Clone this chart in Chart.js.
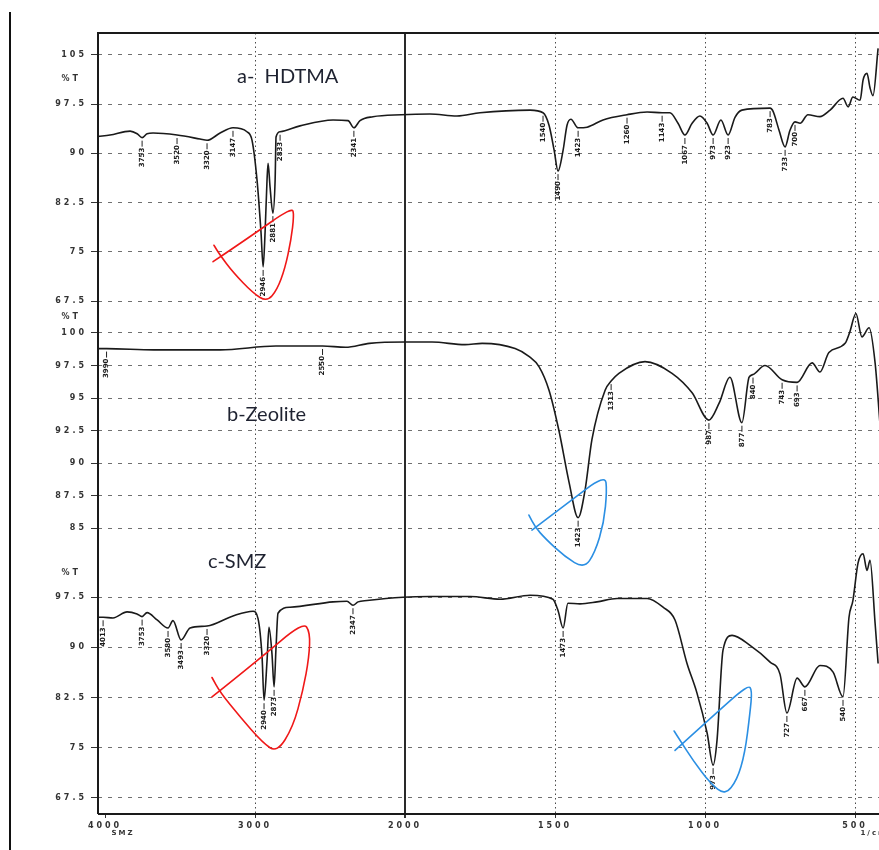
<!DOCTYPE html>
<html>
<head>
<meta charset="utf-8">
<title>FTIR spectra - HDTMA, Zeolite, SMZ</title>
<script src="https://cdn.jsdelivr.net/npm/chart.js@4.4.1/dist/chart.umd.min.js"></script>
<style>
  body { margin: 0; background: #fff; }
  #wrap { position: relative; width: 879px; height: 850px; overflow: hidden; background: #fff; }
  #chart { position: absolute; left: 0; top: 0; }
  #edge { position: absolute; left: 9px; top: 12px; width: 2px; height: 838px; background: #111; }
  .tag { position: absolute; font-family: Lato, "Open Sans", sans-serif; font-size: 20px; line-height: 20px; color: #1e2230; white-space: pre; }
</style>
</head>
<body>
<div id="wrap">
  <div id="edge"></div>
  <canvas id="chart" width="879" height="850"></canvas>
  <div class="tag" style="left:237px;top:65px">a-  HDTMA</div>
  <div class="tag" style="left:227px;top:403px">b-Zeolite</div>
  <div class="tag" style="left:208px;top:550px">c-SMZ</div>
</div>
<script>
// wavenumber axis (1/cm), 4000-2000 is drawn at half the scale of 2000-400
const xTickWaves = [4000, 3000, 2000, 1500, 1000, 500];
const xMinWave = 4047;
const xMaxWave = 420;

// a- HDTMA
const waveA = [4045, 3967, 3833, 3786, 3753, 3720, 3680, 3520, 3367, 3320,
  3233, 3147, 3054, 3020, 2987, 2960, 2946, 2933, 2920, 2913,
  2900, 2881, 2866, 2860, 2833, 2700, 2480, 2380, 2341, 2300,
  2214, 2025, 1917, 1827, 1750, 1583, 1540, 1520, 1503, 1490,
  1473, 1460, 1447, 1423, 1393, 1340, 1260, 1193, 1143, 1117,
  1090, 1067, 1043, 1017, 993, 973, 947, 923, 900, 877,
  783, 773, 753, 733, 717, 700, 683, 657, 617, 583,
  540, 523, 507, 483, 473, 460, 450, 440, 423];
const transA = [92.6, 92.8, 93.4, 93.0, 92.4, 93.0, 93.1, 92.8, 92.2, 92.0,
  93.1, 93.9, 93.3, 92.0, 86.0, 77.9, 72.7, 78.0, 86.0, 88.5,
  84.9, 80.9, 86.0, 92.5, 93.3, 94.2, 95.1, 95.0, 93.9, 95.0,
  95.6, 95.9, 96.0, 95.7, 96.2, 96.6, 96.2, 94.3, 90.5, 87.3,
  90.5, 94.3, 95.2, 93.9, 94.0, 95.1, 95.9, 96.3, 96.2, 96.2,
  94.6, 92.8, 94.6, 95.7, 94.6, 92.8, 95.1, 92.8, 95.5, 96.6,
  96.9, 96.4, 93.5, 91.0, 93.5, 94.8, 94.6, 95.9, 95.6, 96.6,
  98.4, 97.1, 98.6, 98.1, 101.2, 102.2, 100.0, 98.8, 106.0];
const peaksA = [3753, 3520, 3320, 3147, 2946, 2881, 2833, 2341, 1540, 1490,
  1423, 1260, 1143, 1067, 973, 923, 783, 733, 700];
const ticksA = [105, 97.5, 90, 82.5, 75, 67.5];

// b-Zeolite
const waveB = [4045, 3990, 3675, 3232, 2861, 2550, 2397, 2238, 2000, 1910,
  1800, 1743, 1633, 1587, 1553, 1520, 1487, 1453, 1423, 1400,
  1377, 1333, 1313, 1287, 1200, 1110, 1043, 987, 953, 917,
  877, 853, 840, 800, 743, 693, 643, 617, 587, 533,
  517, 497, 477, 453, 433, 417];
const transB = [98.8, 98.8, 98.7, 98.7, 99.0, 99.0, 98.9, 99.2, 99.3, 99.3,
  99.1, 99.2, 98.8, 98.2, 97.4, 95.6, 92.5, 88.5, 85.8, 87.9,
  91.8, 95.6, 96.3, 96.9, 97.8, 96.9, 95.4, 93.3, 94.6, 96.6,
  93.1, 96.6, 96.8, 97.5, 96.4, 96.2, 97.7, 97.0, 98.5, 99.2,
  100.1, 101.5, 99.7, 100.4, 97.7, 93.1];
const peaksB = [3990, 2550, 1423, 1313, 987, 877, 840, 743, 693];
const ticksB = [100, 97.5, 95, 92.5, 90, 87.5, 85];

// c-SMZ
const waveC = [4045, 4013, 3947, 3853, 3787, 3753, 3720, 3653, 3580, 3547,
  3493, 3433, 3320, 3147, 3013, 2980, 2953, 2940, 2920, 2907,
  2887, 2873, 2860, 2847, 2767, 2480, 2387, 2347, 2313, 2253,
  2013, 1917, 1783, 1683, 1583, 1507, 1490, 1473, 1457, 1417,
  1360, 1293, 1193, 1140, 1100, 1060, 1027, 993, 973, 960,
  940, 910, 850, 783, 750, 727, 693, 667, 617, 573,
  540, 520, 507, 490, 473, 460, 450, 433, 423];
const transC = [94.5, 94.5, 94.4, 95.3, 95.0, 94.6, 95.2, 94.1, 92.9, 94.0,
  91.1, 92.9, 93.2, 94.7, 95.4, 94.3, 88.5, 82.1, 88.0, 93.0,
  89.0, 84.1, 90.0, 95.1, 96.0, 96.8, 96.9, 96.3, 96.8, 97.0,
  97.5, 97.6, 97.6, 97.2, 97.8, 97.2, 95.5, 92.9, 96.6, 96.5,
  96.8, 97.3, 97.3, 96.0, 94.1, 87.6, 83.2, 77.2, 72.4, 76.1,
  89.6, 91.8, 90.3, 87.8, 86.0, 80.2, 85.4, 84.1, 87.3, 86.3,
  82.6, 94.5, 97.0, 102.6, 104.0, 101.5, 103.0, 93.6, 87.6];
const peaksC = [4013, 3753, 3580, 3493, 3320, 2940, 2873, 2347, 1473, 973, 727, 667, 540];
const ticksC = [97.5, 90, 82.5, 75, 67.5];

// hand drawn marks round the peaks (wavenumber, %T of each panel)
const redLoopAWave = [3280, 3033, 2754, 2740, 2760, 2800, 2853, 2920, 3013, 3147, 3233, 3274];
const redLoopATrans = [73.5, 77.3, 81.8, 80.6, 76.8, 72.5, 69.2, 67.4, 68.7, 71.9, 74.5, 76.0];
const blueLoopBWave = [1577, 1460, 1333, 1327, 1337, 1367, 1403, 1467, 1533, 1567, 1587];
const blueLoopBTrans = [84.85, 86.9, 89.1, 87.9, 85.4, 83.1, 81.9, 82.8, 84.2, 85.1, 86.0];
const redLoopCWave = [3287, 2980, 2680, 2633, 2640, 2680, 2747, 2853, 2947, 3100, 3233, 3287];
const redLoopCTrans = [82.6, 88.1, 93.8, 92.3, 88.5, 83.6, 78.1, 74.3, 75.7, 79.6, 83.3, 85.5];
const blueLoopCWave = [1100, 977, 857, 843, 850, 867, 893, 933, 983, 1040, 1083, 1103];
const blueLoopCTrans = [74.6, 79.6, 84.4, 83.6, 80.2, 74.2, 70.2, 67.9, 69.7, 73.1, 76.1, 77.5];

function pos(w) {
  return w >= 2000 ? (4000 - w) * 0.15 : 300 + (2000 - w) * 0.3;
}

function toPoints(waves, trans) {
  return waves.map((w, i) => ({ x: pos(w), y: trans[i] }));
}

const tickFont = { family: 'DejaVu Sans', size: 8, weight: 'bold' };

function yAxis(ticks, min, max, stackWeight, weight) {
  return {
    type: 'linear',
    position: 'left',
    stack: 'ir',
    stackWeight: stackWeight,
    weight: weight,
    min: min,
    max: max,
    afterBuildTicks: s => { s.ticks = ticks.map(v => ({ value: v })); },
    afterFit: s => { s.width = 98; },
    ticks: { color: '#333', padding: 4, font: tickFont, callback: v => String(v) },
    grid: { color: '#707070', lineWidth: 1, tickLength: 7, tickColor: '#333', tickWidth: 1 },
    border: { display: false, dash: [4, 6] }
  };
}

function spectrum(waves, trans, axisId) {
  return {
    data: toPoints(waves, trans),
    yAxisID: axisId,
    borderColor: '#1a1a1a',
    borderWidth: 1.6,
    pointRadius: 0,
    fill: false,
    cubicInterpolationMode: 'monotone'
  };
}

function drawPeakLabels(ctx, xs, ys, waves, trans, peaks) {
  ctx.strokeStyle = '#222';
  ctx.fillStyle = '#1a1a1a';
  ctx.lineWidth = 1;
  ctx.font = 'bold 7px "DejaVu Sans"';
  peaks.forEach(w => {
    const t = trans[waves.indexOf(w)];
    const px = xs.getPixelForValue(pos(w));
    const py = ys.getPixelForValue(t);
    ctx.beginPath();
    ctx.moveTo(px, py + 3);
    ctx.lineTo(px, py + 9);
    ctx.stroke();
    ctx.save();
    ctx.translate(px, py + 10);
    ctx.rotate(-Math.PI / 2);
    ctx.textAlign = 'right';
    ctx.textBaseline = 'middle';
    ctx.fillText(String(w), 0, 0);
    ctx.restore();
  });
}

function drawLoop(ctx, xs, ys, waves, trans, color) {
  const p = waves.map((w, i) => [xs.getPixelForValue(pos(w)), ys.getPixelForValue(trans[i])]);
  ctx.strokeStyle = color;
  ctx.lineWidth = 1.6;
  ctx.lineJoin = 'round';
  ctx.lineCap = 'round';
  ctx.beginPath();
  ctx.moveTo(p[0][0], p[0][1]);
  for (let i = 1; i < p.length - 1; i++) {
    const mx = (p[i][0] + p[i + 1][0]) / 2;
    const my = (p[i][1] + p[i + 1][1]) / 2;
    ctx.quadraticCurveTo(p[i][0], p[i][1], mx, my);
  }
  ctx.lineTo(p[p.length - 1][0], p[p.length - 1][1]);
  ctx.stroke();
}

const irDecor = {
  id: 'irDecor',
  beforeDraw(chart) {
    // the scanned axis digits are wide and spaced out
    chart.ctx.letterSpacing = '3px';
  },
  afterDraw(chart) {
    const { ctx, chartArea: a, scales } = chart;
    const xs = scales.x;
    ctx.save();

    // frame
    ctx.strokeStyle = '#1a1a1a';
    ctx.lineWidth = 2;
    ctx.beginPath();
    ctx.moveTo(a.left, a.bottom);
    ctx.lineTo(a.left, a.top);
    ctx.lineTo(a.right, a.top);
    ctx.moveTo(a.left, a.bottom);
    ctx.lineTo(a.right, a.bottom);
    ctx.stroke();

    // %T captions and unit notes
    ctx.fillStyle = '#333';
    ctx.font = 'bold 8px "DejaVu Sans"';
    ctx.textAlign = 'right';
    ctx.textBaseline = 'middle';
    ctx.letterSpacing = '3px';
    ctx.fillText('%T', 81, scales.ya.getPixelForValue(101.3));
    ctx.fillText('%T', 81, scales.yb.getPixelForValue(101.2));
    ctx.fillText('%T', 81, scales.yc.getPixelForValue(101.2));
    ctx.font = 'bold 7px "DejaVu Sans"';
    ctx.letterSpacing = '2px';
    ctx.textAlign = 'center';
    ctx.fillText('SMZ', xs.getPixelForValue(pos(3880)), a.bottom + 19);
    ctx.fillText('1/cm', xs.getPixelForValue(pos(437)), a.bottom + 19);
    ctx.letterSpacing = '0px';

    drawPeakLabels(ctx, xs, scales.ya, waveA, transA, peaksA);
    drawPeakLabels(ctx, xs, scales.yb, waveB, transB, peaksB);
    drawPeakLabels(ctx, xs, scales.yc, waveC, transC, peaksC);

    drawLoop(ctx, xs, scales.ya, redLoopAWave, redLoopATrans, '#f01818');
    drawLoop(ctx, xs, scales.yb, blueLoopBWave, blueLoopBTrans, '#2b8fe3');
    drawLoop(ctx, xs, scales.yc, redLoopCWave, redLoopCTrans, '#f01818');
    drawLoop(ctx, xs, scales.yc, blueLoopCWave, blueLoopCTrans, '#2b8fe3');
    ctx.restore();
  }
};

const isAt = (c, w) => c.tick && Math.abs(c.tick.value - pos(w)) < 0.01;

new Chart(document.getElementById('chart'), {
  type: 'line',
  data: {
    datasets: [
      spectrum(waveA, transA, 'ya'),
      spectrum(waveB, transB, 'yb'),
      spectrum(waveC, transC, 'yc')
    ]
  },
  options: {
    responsive: false,
    animation: false,
    layout: { padding: { top: 33, left: 0, right: 0, bottom: 0 } },
    plugins: { legend: { display: false }, tooltip: { enabled: false } },
    scales: {
      x: {
        type: 'linear',
        min: pos(xMinWave),
        max: pos(xMaxWave),
        afterBuildTicks: s => { s.ticks = xTickWaves.map(w => ({ value: pos(w) })); },
        afterFit: s => { s.height = 36; },
        ticks: {
          autoSkip: false,
          maxRotation: 0,
          color: '#333',
          padding: 3,
          font: tickFont,
          callback: (v, i) => String(xTickWaves[i])
        },
        grid: {
          color: c => isAt(c, 4000) ? 'rgba(0,0,0,0)' : (isAt(c, 2000) ? '#2a2a2a' : '#4a4a4a'),
          lineWidth: c => isAt(c, 2000) ? 2 : 1,
          tickLength: 4,
          tickColor: '#333'
        },
        border: { display: false, dash: c => isAt(c, 2000) ? [] : [1.5, 3] }
      },
      ya: yAxis(ticksA, 66.9, 108.35, 272, 3),
      yb: yAxis(ticksB, 83.7, 102.15, 240, 2),
      yc: yAxis(ticksC, 65.1, 105.3, 269, 1)
    }
  },
  plugins: [irDecor]
});
</script>
</body>
</html>
